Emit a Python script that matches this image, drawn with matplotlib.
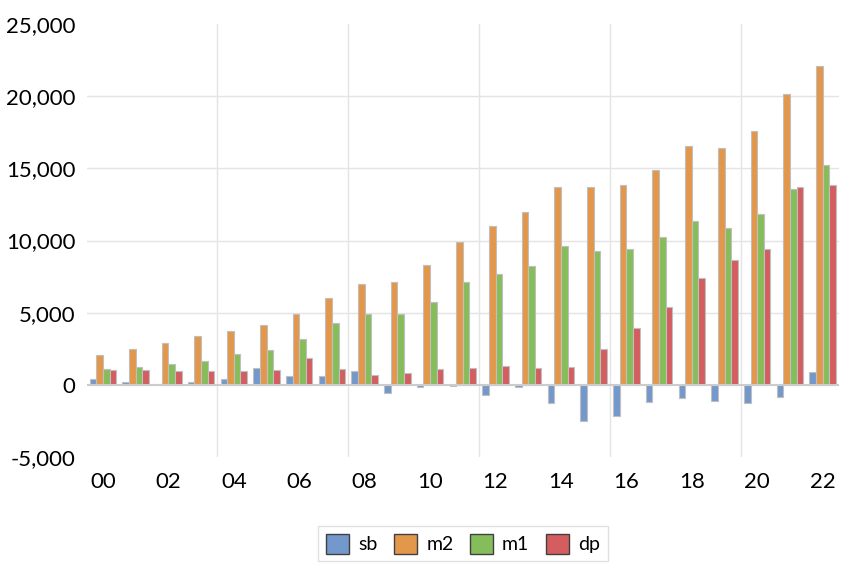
import numpy as np
import matplotlib
matplotlib.use('Agg')
import matplotlib.pyplot as plt
from matplotlib.ticker import FuncFormatter

plt.rcParams['font.family'] = ['Lato', 'DejaVu Sans']

years = ['00', '01', '02', '03', '04', '05', '06', '07', '08', '09', '10', '11',
         '12', '13', '14', '15', '16', '17', '18', '19', '20', '21', '22']

sb = [410, 190, 50, 190, 390, 1190, 600, 600, 990, -550, -150, -60,
      -700, -140, -1240, -2530, -2180, -1200, -900, -1100, -1240, -850, 920]
m2 = [2050, 2460, 2920, 3360, 3720, 4160, 4940, 6000, 6970, 7150, 8280, 9910,
      11010, 11950, 13680, 13680, 13820, 14900, 16570, 16440, 17590, 20120, 22090]
m1 = [1080, 1240, 1430, 1630, 2160, 2410, 3150, 4250, 4940, 4940, 5750, 7120,
      7700, 8230, 9590, 9260, 9430, 10230, 11330, 10900, 11840, 13570, 15240]
dp = [1055, 1010, 965, 990, 990, 1055, 1840, 1100, 710, 800, 1100, 1200,
      1310, 1150, 1220, 2480, 3950, 5360, 7430, 8670, 9420, 13720, 13840]

series = [('sb', sb, '#7398CC'), ('m2', m2, '#E3974B'),
          ('m1', m1, '#86BD5B'), ('dp', dp, '#D45D5F')]

fig = plt.figure(figsize=(8.42, 5.71), dpi=100)
ax = fig.add_axes([86.6 / 842, 1 - 457 / 571, (839 - 86.6) / 842, (457 - 24) / 571])

x = np.arange(len(years))
w = 0.202
for i, (name, vals, col) in enumerate(series):
    ax.bar(x + (i - 1.5) * w, vals, width=w, color=col, edgecolor='#BFBFBF',
           linewidth=0.8, label=name, zorder=3)

ax.set_xlim(-0.5, len(years) - 0.5)
ax.set_ylim(-5000, 25000)

# horizontal grid
ax.set_yticks(np.arange(-5000, 25001, 5000))
for v in range(5000, 25000, 5000):
    ax.axhline(v, color='#E4E4E4', linewidth=1, zorder=1)
ax.axhline(0, color='#CCCCCC', linewidth=1.5, zorder=4)
# vertical grid every four years
for b in np.arange(3.5, len(years) - 1, 4):
    ax.axvline(b, color='#E4E4E4', linewidth=1, zorder=1)

ax.yaxis.set_major_formatter(FuncFormatter(lambda v, p: f'{int(v):,}'))
ax.set_xticks(x[::2])
ax.set_xticklabels(years[::2])
ax.tick_params(axis='both', length=0, labelsize=16, colors='black')
ax.tick_params(axis='x', pad=11)
ax.tick_params(axis='y', pad=8)
for s in ax.spines.values():
    s.set_visible(False)

leg = fig.legend(loc='lower center', bbox_to_anchor=(463 / 842, 0.0), ncol=4,
                 frameon=True, fontsize=14, handlelength=1.2, handleheight=1.15,
                 columnspacing=0.85, handletextpad=0.45, borderpad=0.4,
                 fancybox=False, edgecolor='#D9D9D9')
for h in leg.legend_handles:
    h.set_edgecolor('#404040')
    h.set_linewidth(1)

fig.savefig('out.png', dpi=100)
